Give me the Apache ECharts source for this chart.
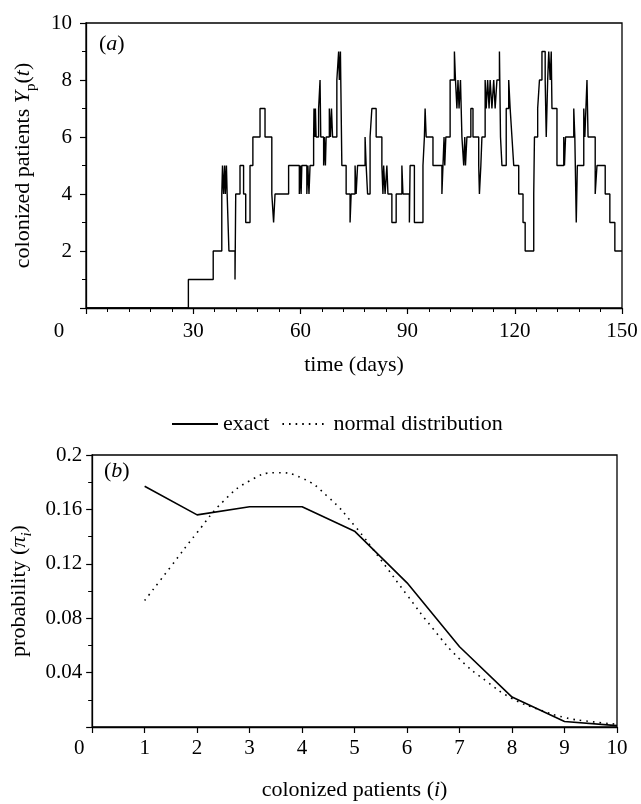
<!DOCTYPE html>
<html>
<head>
<meta charset="utf-8">
<script src="https://cdn.jsdelivr.net/npm/echarts@6/dist/echarts.min.js"></script>
<style>html,body{margin:0;padding:0;background:#fff}#c{width:641px;height:804px}</style>
</head>
<body>
<div id="c"></div>
<script>
// Panel (a): change points of the step series (day, colonized patients)
var stepDays = [0,28.65,35.6,38.0,38.2,38.5,38.8,39.0,39.3,39.5,40.0,41.7,41.9,43.1,44.1,44.7,45.9,46.7,48.7,50.1,52.0,52.5,52.9,56.7,59.7,60.0,60.2,60.4,61.8,62.1,62.4,62.7,63.7,63.8,64.0,64.2,64.4,65.1,65.5,65.7,66.5,66.7,67.0,67.2,68.1,68.4,68.7,69.0,70.2,70.7,70.9,71.2,71.6,72.8,73.9,74.2,75.3,75.6,76.0,78.1,78.4,78.8,79.5,80.0,81.2,82.8,83.1,83.3,83.7,84.2,84.5,85.6,86.8,88.4,88.7,90.5,90.7,91.9,94.3,94.7,94.9,95.2,97.1,99.6,99.9,100.2,100.4,100.7,101.9,103.1,103.4,103.8,104.1,104.4,104.8,105.2,105.7,106.0,106.2,106.6,107.7,108.3,109.9,110.1,110.5,110.8,111.7,112.0,112.4,112.8,113.1,113.6,114.1,114.5,115.0,115.7,116.0,116.4,117.6,118.3,118.7,119.2,119.7,121.1,122.3,122.9,125.3,125.5,126.4,126.9,127.6,128.5,128.8,129.2,129.5,129.9,130.2,130.4,131.8,133.7,133.9,134.2,136.5,136.8,137.2,137.5,139.3,139.6,139.9,140.2,140.5,142.5,143.0,145.3,146.6,148.0,150];
var stepCounts = [0,1,2,4,5,4,5,4,5,4,2,1,4,5,4,3,5,6,7,6,4,3,4,5,4,5,4,5,4,5,4,5,6,7,6,7,6,7,8,6,5,6,5,6,7,6,7,6,8,9,8,9,5,4,3,4,5,4,5,6,5,4,6,7,6,5,4,5,4,5,4,3,4,5,4,3,5,3,5,6,7,6,5,4,5,6,5,6,8,9,8,7,8,7,8,6,5,6,5,6,7,6,5,4,5,6,8,7,8,7,8,7,8,7,8,9,6,5,7,8,7,6,5,4,3,2,4,6,7,8,9,8,6,8,9,8,9,7,5,6,5,6,7,6,3,5,7,6,7,8,6,4,5,4,3,2,2];
var xTicksA = [0,30,60,90,120,150];
var yTicksA = [2,4,6,8,10];

// Panel (b)
var exactI = [1,2,3,4,5,6,7,8,9,10];
var exactP = [0.177,0.156,0.162,0.162,0.144,0.106,0.059,0.022,0.004,0.001];
var normalI = [1,1.5,2,2.5,3,3.5,4,4.5,5,5.5,6,6.5,7,7.5,8,8.5,9,9.5,10];
var normalP = [0.093,0.118,0.143,0.166,0.181,0.187,0.183,0.169,0.148,0.123,0.097,0.072,0.050,0.034,0.021,0.013,0.007,0.004,0.002];
var yTicksB = [0.04,0.08,0.12,0.16,0.2];

var FONT = 'Liberation Serif';
var TICK = 21, NAME = 22;
function zip(a,b){return a.map(function(v,i){return [v,b[i]];});}

var axisCommon = {
  axisLine:{show:true,onZero:false,lineStyle:{color:'#000',width:1.3}},
  axisTick:{show:true,inside:false,length:6,lineStyle:{color:'#000',width:1.2}},
  minorTick:{show:true,length:4,lineStyle:{color:'#000',width:1}},
  splitLine:{show:false}
};
function ax(extra){return Object.assign({}, JSON.parse(JSON.stringify(axisCommon)), extra);}

var chart = echarts.init(document.getElementById('c'), null, {renderer:'canvas'});
chart.setOption({
  backgroundColor:'#fff',
  animation:false,
  textStyle:{fontFamily:FONT,color:'#000'},
  grid:[
    {left:86,top:23,width:536,height:285,show:true,borderColor:'#000',borderWidth:1.3,backgroundColor:'transparent'},
    {left:92,top:455,width:525,height:272,show:true,borderColor:'#000',borderWidth:1.3,backgroundColor:'transparent'}
  ],
  legend:{
    top:408,left:166,itemWidth:46,itemHeight:14,itemGap:12,
    itemStyle:{opacity:0},
    data:['exact','normal distribution'],
    textStyle:{fontFamily:FONT,fontSize:22,color:'#000'}
  },
  xAxis:[
    ax({gridIndex:0,type:'value',min:0,max:150,interval:30,minorTick:{show:true,splitNumber:5,length:4,lineStyle:{color:'#000'}},
      axisLabel:{fontFamily:FONT,fontSize:TICK,color:'#000',margin:13,
        formatter:function(v){return v===0?'{o|0}':String(v);},
        rich:{o:{fontFamily:FONT,fontSize:TICK,color:'#000',padding:[0,54,0,0]}}},
      name:'time (days)',nameLocation:'middle',nameGap:46,nameTextStyle:{fontFamily:FONT,fontSize:NAME,color:'#000'}}),
    ax({gridIndex:1,type:'value',min:0,max:10,interval:1,minorTick:{show:false},
      axisLabel:{fontFamily:FONT,fontSize:TICK,color:'#000',margin:11,
        formatter:function(v){return v===0?'{o|0}':String(v);},
        rich:{o:{fontFamily:FONT,fontSize:TICK,color:'#000',padding:[0,26,0,0]}}},
      name:'{t|colonized patients (}{i|i}{t|)}',nameLocation:'middle',nameGap:52,
      nameTextStyle:{rich:{t:{fontFamily:FONT,fontSize:NAME,color:'#000'},i:{fontFamily:FONT,fontSize:NAME,fontStyle:'italic',color:'#000'}}}})
  ],
  yAxis:[
    ax({gridIndex:0,type:'value',min:0,max:10,interval:2,minorTick:{show:true,splitNumber:2,length:4,lineStyle:{color:'#000'}},
      axisLabel:{fontFamily:FONT,fontSize:TICK,color:'#000',margin:14,formatter:function(v){return v===0?'':String(v);}},
      name:'{t|colonized patients }{i|Y}{s|p}{t|(}{i|t}{t|)}',nameLocation:'middle',nameGap:47,nameRotate:90,
      nameTextStyle:{rich:{t:{fontFamily:FONT,fontSize:NAME,color:'#000'},i:{fontFamily:FONT,fontSize:NAME,fontStyle:'italic',color:'#000'},
        s:{fontFamily:FONT,fontSize:15,color:'#000',verticalAlign:'bottom',lineHeight:31}}}}),
    ax({gridIndex:1,type:'value',min:0,max:0.2,interval:0.04,minorTick:{show:true,splitNumber:2,length:4,lineStyle:{color:'#000'}},
      axisLabel:{fontFamily:FONT,fontSize:TICK,color:'#000',margin:10,formatter:function(v){return v===0?'':(v===0.2?'0.2':v.toFixed(2));}},
      name:'{t|probability (}{i|π}{s|i}{t|)}',nameLocation:'middle',nameGap:54,nameRotate:90,
      nameTextStyle:{rich:{t:{fontFamily:FONT,fontSize:NAME,color:'#000'},i:{fontFamily:FONT,fontSize:NAME,fontStyle:'italic',color:'#000'},
        s:{fontFamily:FONT,fontSize:15,fontStyle:'italic',color:'#000',verticalAlign:'bottom',lineHeight:31}}}})
  ],
  graphic:[
    {type:'text',left:99,top:33,style:{text:'({i|a})',rich:{i:{fontFamily:FONT,fontSize:22,fontStyle:'italic',fill:'#000'}},fontFamily:FONT,fontSize:22,fill:'#000'}},
    {type:'text',left:104,top:460,style:{text:'({i|b})',rich:{i:{fontFamily:FONT,fontSize:22,fontStyle:'italic',fill:'#000'}},fontFamily:FONT,fontSize:22,fill:'#000'}}
  ],
  series:[
    {name:'Yp',type:'line',xAxisIndex:0,yAxisIndex:0,step:'end',symbol:'none',data:zip(stepDays,stepCounts),
      lineStyle:{color:'#000',width:1.4},itemStyle:{color:'#000'}},
    {name:'exact',type:'line',xAxisIndex:1,yAxisIndex:1,symbol:'none',data:zip(exactI,exactP),
      lineStyle:{color:'#000',width:1.6},itemStyle:{color:'#000'}},
    {name:'normal distribution',type:'line',xAxisIndex:1,yAxisIndex:1,symbol:'none',smooth:true,data:zip(normalI,normalP),
      lineStyle:{color:'#000',width:1.6,type:[1.6,5]},itemStyle:{color:'#000'}}
  ]
});
</script>
</body>
</html>
